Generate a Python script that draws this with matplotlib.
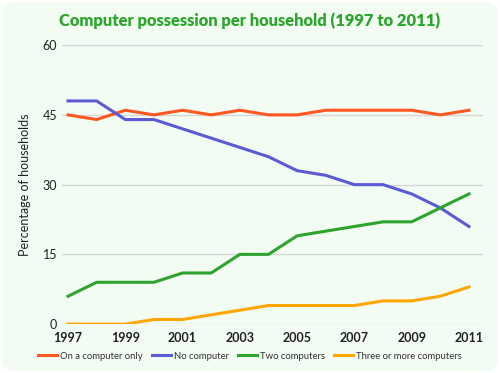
import matplotlib.pyplot as plt
from matplotlib.patches import FancyBboxPatch

years = list(range(1997, 2012))
one_computer = [45, 44, 46, 45, 46, 45, 46, 45, 45, 46, 46, 46, 46, 45, 46]
no_computer = [48, 48, 44, 44, 42, 40, 38, 36, 33, 32, 30, 30, 28, 25, 21]
two_computers = [6, 9, 9, 9, 11, 11, 15, 15, 19, 20, 21, 22, 22, 25, 28]
three_plus = [0, 0, 0, 1, 1, 2, 3, 4, 4, 4, 4, 5, 5, 6, 8]
labels = ["On a computer only", "No computer", "Two computers", "Three or more computers"]
colors = ["#FF5722", "#5B5BD6", "#2EA32E", "#FFA500"]

plt.rcParams['font.family'] = ['Lato', 'DejaVu Sans']

fig = plt.figure(figsize=(5, 3.73), dpi=100)
fig.patch.set_facecolor("white")
bg = FancyBboxPatch((0.004, 0.005), 0.992, 0.99, boxstyle="round,pad=0,rounding_size=0.03",
                    transform=fig.transFigure, facecolor="#F2FCF2", edgecolor="none", zorder=-10)
fig.patches.append(bg)

ax = fig.add_axes([0.124, 0.131, 0.842, 0.748])
ax.set_facecolor("none")
for s, c, lab in zip([one_computer, no_computer, two_computers, three_plus], colors, labels):
    ax.plot(years, s, color=c, lw=2.2, label=lab, solid_joinstyle="round")

ax.set_ylim(0, 60)
ax.set_xlim(1996.79, 2011.49)
ax.set_yticks([0, 15, 30, 45, 60])
ax.set_xticks(range(1997, 2012, 2))
ax.grid(axis="y", color="#d6d6d6", lw=1)
ax.set_axisbelow(True)
for sp in ax.spines.values():
    sp.set_visible(False)
ax.tick_params(length=0, labelsize=9, labelcolor="#222222")
ax.tick_params(axis="x", pad=6)
for t in ax.get_xticklabels():
    t.set_fontweight("bold")
ax.set_ylabel("Percentage of households", fontsize=9, color="#222222", labelpad=8)

fig.text(0.5, 0.945, "Computer possession per household (1997 to 2011)", ha="center", va="center",
         fontsize=11.9, fontweight="heavy", color="#2EA52E")

fig.legend(loc="center", bbox_to_anchor=(0.5, 0.045), ncol=4, frameon=False, fontsize=6.8,
           handlelength=2.0, handletextpad=0.3, columnspacing=1.0, labelcolor="#333333")

fig.savefig("out.png", dpi=100, facecolor=fig.get_facecolor())
